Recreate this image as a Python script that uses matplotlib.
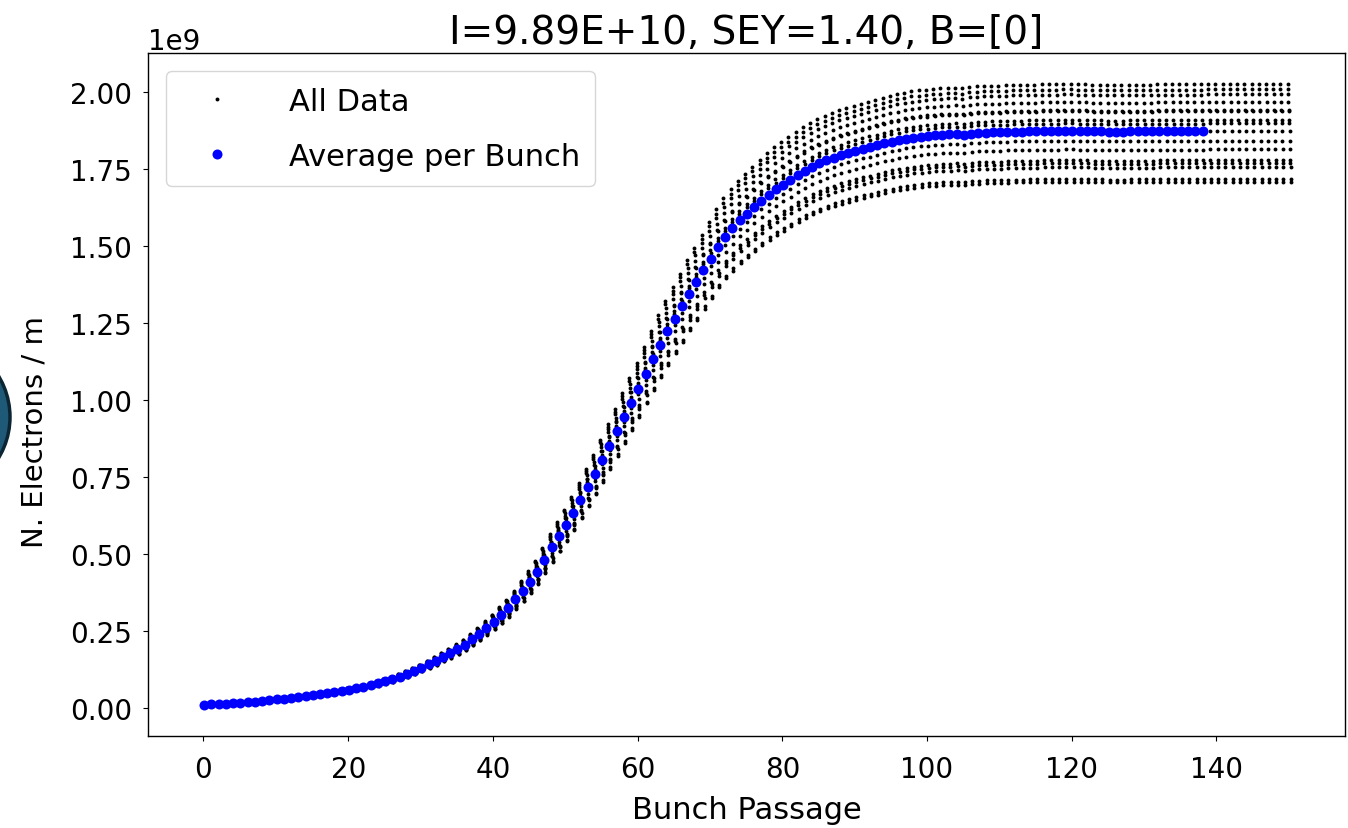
import numpy as np
import matplotlib
matplotlib.use('Agg')
import matplotlib.pyplot as plt
from matplotlib.patches import Circle

plt.rcParams['font.family'] = ['DejaVu Sans']

# average number of electrons per bunch passage (units of 1e9), passages 0..150
avg_per_bunch = [
    0.010, 0.011, 0.012, 0.0135, 0.015, 0.0165, 0.018, 0.020, 0.022, 0.0245,
    0.027, 0.030, 0.033, 0.036, 0.039, 0.042, 0.045, 0.0485, 0.052, 0.0555,
    0.059, 0.063, 0.068, 0.073, 0.079, 0.086, 0.093, 0.101, 0.110, 0.120,
    0.130, 0.141, 0.153, 0.165, 0.178, 0.191, 0.205, 0.222, 0.240, 0.260,
    0.280, 0.302, 0.325, 0.352, 0.380, 0.410, 0.442, 0.480, 0.521, 0.557,
    0.595, 0.634, 0.676, 0.719, 0.761, 0.806, 0.852, 0.898, 0.945, 0.991,
    1.037, 1.085, 1.134, 1.180, 1.223, 1.264, 1.305, 1.345, 1.383, 1.422,
    1.459, 1.498, 1.531, 1.558, 1.584, 1.605, 1.626, 1.648, 1.667, 1.685,
    1.700, 1.716, 1.731, 1.745, 1.758, 1.769, 1.779, 1.788, 1.796, 1.803,
    1.810, 1.816, 1.822, 1.828, 1.834, 1.840, 1.845, 1.849, 1.853, 1.856,
    1.858, 1.860, 1.862, 1.863, 1.864, 1.862, 1.866, 1.868, 1.869, 1.870,
    1.870, 1.871, 1.872, 1.872, 1.873, 1.873, 1.874, 1.874, 1.874, 1.875,
    1.875, 1.874, 1.874, 1.873, 1.873, 1.872, 1.872, 1.872, 1.873, 1.873,
    1.873, 1.873, 1.874, 1.874, 1.874, 1.874, 1.874, 1.874, 1.874, 1.875,
    1.875, 1.875, 1.875, 1.875, 1.875, 1.875, 1.875, 1.875, 1.875, 1.875,
    1.875,
]
n_avg_shown = 139

# relative level of each of the 16 samples taken within one passage, and its x offset
sample_ratio = [1.081, 1.072, 1.063, 1.050, 1.036, 1.034, 1.019, 1.013,
                1.000, 0.983, 0.968, 0.949, 0.944, 0.937, 0.917, 0.912]
sample_dx = [-0.15, -0.15, -0.10, -0.05, -0.02, 0.05, 0.05, 0.08,
             0.10, 0.12, 0.15, 0.18, 0.22, 0.25, 0.25, 0.25]

title = 'I=9.89E+10, SEY=1.40, B=[0]'

avg = np.array(avg_per_bunch) * 1e9
passage = np.arange(len(avg))
all_x = (passage[:, None] + np.array(sample_dx)[None, :]).ravel()
all_y = (avg[:, None] * np.array(sample_ratio)[None, :]).ravel()

fig = plt.figure(figsize=(13.48, 8.29), dpi=100)
ax = fig.add_axes([148/1348, 1-737/829, (1345-148)/1348, (737-54)/829])

ax.plot(all_x, all_y, 'o', color='k', ms=2.8, mew=0, label='All Data')
ax.plot(passage[:n_avg_shown] + 0.1, avg[:n_avg_shown], 'o', color='blue',
        ms=7.2, mew=0, label='Average per Bunch')

ax.set_xlabel('Bunch Passage', fontsize=22, labelpad=9)
ax.set_ylabel('N. Electrons / m', fontsize=21)
ax.yaxis.set_label_coords(-0.083, 0.447)
ax.set_title(title, fontsize=28, pad=7)
ax.tick_params(axis='x', labelsize=20, pad=10)
ax.tick_params(axis='y', labelsize=20, pad=8)
ax.yaxis.get_offset_text().set_fontsize(20)
ax.set_xticks([0, 20, 40, 60, 80, 100, 120, 140])
ax.set_yticks(np.arange(0, 2.01, 0.25) * 1e9)
for s in ax.spines.values():
    s.set_linewidth(1.0)

leg = ax.legend(loc='upper left', fontsize=22, markerscale=1.0,
                handlelength=2.3, handletextpad=1.2, borderpad=0.5,
                labelspacing=0.85, borderaxespad=0.6)

# stray round badge partly visible at the left edge of the screenshot
fig.patches.append(Circle((-69, 829-418), 79, transform=None,
                          facecolor='#1e5a78', edgecolor='#0b2533', lw=2.5))

fig.savefig('out.png', dpi=100)
